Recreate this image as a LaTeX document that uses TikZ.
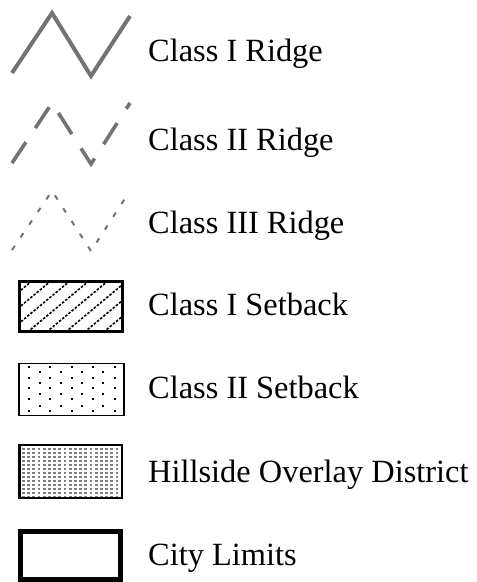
\documentclass[tikz,border=0pt]{standalone}
\usepackage{fontspec}
\setmainfont{Liberation Serif}
\definecolor{ridgegray}{gray}{0.45}
\definecolor{dotgray}{gray}{0.5}
\begin{document}
\begin{tikzpicture}[x=1pt,y=-1pt,
  ridge/.style={draw=ridgegray,line width=4pt},
  lab/.style={anchor=base west,inner sep=0pt,font=\fontsize{32.4}{38}\selectfont}]
\useasboundingbox (0,0) rectangle (477,582);
	% ridge lines
	\draw[ridge] (12,73)--(52,13)--(91,76)--(130,16);
	\draw[ridge,line width=3.6pt,dash pattern=on 25pt off 17pt] (12,163)--(52,103)--(91,164)--(130,103);
	\draw[ridge,line width=2pt,dash pattern=on 5pt off 10.3pt] (12,250)--(52,191)--(91,251)--(126,197);
	% setbacks
	\begin{scope}
	\clip (19.8,281.5) rectangle (122.5,331.5);
	\foreach \k in {-76,-57,...,120}
	  \draw[line width=1.6pt,dash pattern=on 2.5pt off 1.6pt] (18+\k,340)--++(72,-60);
	\end{scope}
	\draw[line width=3pt] (19.8,281.5) rectangle (122.5,331.5);
	\foreach \x in {29,50,72,93,115} \foreach \y in {367,378,388,399,411}
	  \fill (\x-1.3,\y-1.3) rectangle ++(2.6,2.6);
	\foreach \x in {40,61,82,103} \foreach \y in {372,383,394,406}
	  \fill (\x-1.3,\y-1.3) rectangle ++(2.6,2.6);
	\draw[line width=1.3pt] (19,363.6) rectangle (124,415.4);
	\foreach \x in {22,27.2,...,120} \foreach \y in {448,452,...,496}
	  \fill[dotgray] (\x,\y) rectangle ++(2.8,2.2);
	\draw[line width=2.5pt] (19.6,445.2) rectangle (122,497.8);
	\draw[line width=5pt] (20.8,531.8) rectangle (120.2,579.2);
	% labels
	\node[lab] (ridgeI) at (148,61) {Class I Ridge};
	\node[lab] (ridgeII) at (148,150) {Class II Ridge};
	\node[lab] (ridgeIII) at (148,233) {Class III Ridge};
	\node[lab] (setbackI) at (148,315) {Class I Setback};
	\node[lab] (setbackII) at (148,398) {Class II Setback};
	\node[lab] (hillside) at (148,482) {Hillside Overlay District};
	\node[lab] (city) at (148,565) {City Limits};
\end{tikzpicture}
\end{document}
